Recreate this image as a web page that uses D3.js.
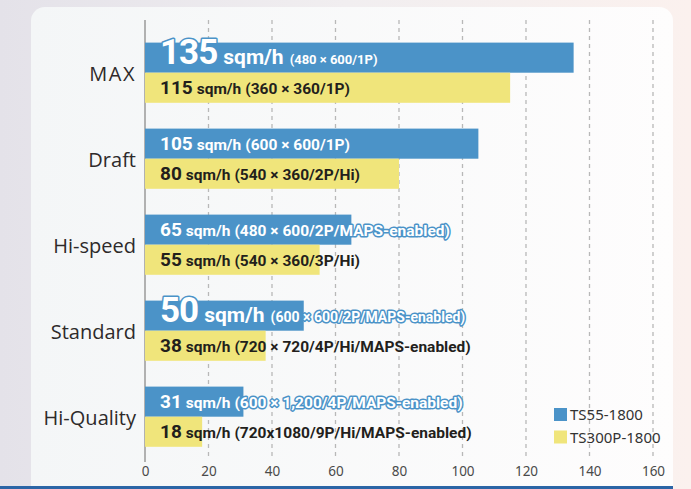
<!DOCTYPE html>
<html><head><meta charset="utf-8">
<script src="https://cdn.jsdelivr.net/npm/d3@7"></script>
<style>html,body{margin:0;padding:0;overflow:hidden;background:#fff}</style>
</head><body>
<svg id="chart" width="691" height="489"></svg>
<script>
const categories = ["MAX", "Draft", "Hi-speed", "Standard", "Hi-Quality"];
const ts55Values = [135, 105, 65, 50, 31];
const ts300Values = [115, 80, 55, 38, 18];
const ts55Specs = ["(480 × 600/1P)", "(600 × 600/1P)", "(480 × 600/2P/MAPS-enabled)", "(600 × 600/2P/MAPS-enabled)", "(600 × 1,200/4P/MAPS-enabled)"];
const ts300Specs = ["(360 × 360/1P)", "(540 × 360/2P/Hi)", "(540 × 360/3P/Hi)", "(720 × 720/4P/Hi/MAPS-enabled)", "(720x1080/9P/Hi/MAPS-enabled)"];
const xTicks = [0, 20, 40, 60, 80, 100, 120, 140, 160];
const seriesNames = ["TS55-1800", "TS300P-1800"];
const unitLabel = "sqm/h";

const BLUE = "#4b93c8", YELLOW = "#f0e57b";
const svg = d3.select("#chart");
const defs = svg.append("defs");
const bg = defs.append("linearGradient").attr("id","bg").attr("x1","0").attr("x2","1").attr("y1","0").attr("y2","0");
bg.append("stop").attr("offset","0").attr("stop-color","#e4e2e9");
bg.append("stop").attr("offset","0.5").attr("stop-color","#f1eef0");
bg.append("stop").attr("offset","1").attr("stop-color","#fbf1ee");
const pg = defs.append("linearGradient").attr("id","pg").attr("x1","0").attr("x2","1").attr("y1","0").attr("y2","0");
pg.append("stop").attr("offset","0").attr("stop-color","#f4f6f7");
pg.append("stop").attr("offset","1").attr("stop-color","#fefdfd");

svg.append("rect").attr("width",691).attr("height",489).attr("fill","url(#bg)");
svg.append("rect").attr("x",31).attr("y",7).attr("width",642).attr("height",500).attr("rx",14).attr("fill","url(#pg)");

const x = d3.scaleLinear().domain([0,160]).range([145,653]);
const y = d3.scaleBand().domain(categories).range([29.7, 459.7]).paddingInner(0.3).paddingOuter(0.15);
const barH = y.bandwidth()/2;

// gridlines
svg.append("g").selectAll("line").data(xTicks.slice(1)).join("line")
  .attr("x1",d=>x(d)).attr("x2",d=>x(d)).attr("y1",20).attr("y2",460)
  .attr("stroke","#b8b8b8").attr("stroke-width",1.3).attr("stroke-dasharray","4,4");

// axis
const xAxis = d3.axisBottom(x).tickValues(xTicks).tickSize(0).tickPadding(0);
const ax = svg.append("g").attr("transform","translate(0,465)").call(xAxis);
ax.select(".domain").remove();
ax.selectAll("text").attr("font-family","'Noto Sans', sans-serif").attr("font-size",13.5).attr("fill","#4a4a4a").attr("dy","0.8em");
svg.append("line").attr("x1",145).attr("x2",145).attr("y1",20).attr("y2",462).attr("stroke","#9a9a9a").attr("stroke-width",1.5);

// bars
const g = svg.append("g");
g.selectAll("rect.b").data(categories).join("rect").attr("class","b")
  .attr("x",x(0)).attr("y",d=>y(d)).attr("height",barH)
  .attr("width",(d,i)=>x(ts55Values[i])-x(0)).attr("fill",BLUE);
g.selectAll("rect.y").data(categories).join("rect").attr("class","y")
  .attr("x",x(0)).attr("y",d=>y(d)+barH).attr("height",barH)
  .attr("width",(d,i)=>x(ts300Values[i])-x(0)).attr("fill",YELLOW);

// category labels
svg.append("g").selectAll("text").data(categories).join("text")
  .attr("x",136).attr("y",d=>y(d)+barH+8).attr("text-anchor","end")
  .attr("font-family","'Open Sans', sans-serif").attr("font-size",20).attr("fill","#2e2a2a")
  .attr("letter-spacing",d=>d==="MAX"?1.5:0)
  .text(d=>d);

// value labels
const bigIdx = [0,3];
function label(values, specs, isBlue) {
  const t = svg.append("g").selectAll("text").data(categories).join("text")
    .attr("x",160)
    .attr("y",(d,i)=>y(d)+(isBlue?0:barH)+barH/2+6)
    .attr("font-family","Roboto, sans-serif").attr("font-weight",700)
    .attr("fill",isBlue?"#fff":"#231f1c");
  if (isBlue) t.attr("stroke",BLUE).attr("stroke-width",3).attr("paint-order","stroke").attr("stroke-linejoin","round");
  t.each(function(d,i){
    const big = isBlue && bigIdx.includes(i);
    const el = d3.select(this);
    el.append("tspan").attr("font-size",big?35:19).attr("letter-spacing",big?-1:0).text(values[i]);
    el.append("tspan").attr("dx",big?6:4).attr("font-size",big?21:15.5).text(unitLabel);
    el.append("tspan").attr("dx",big?6:4).attr("font-size",big?(i===0?13:14):15.5).text(specs[i]);
  });
}
label(ts55Values, ts55Specs, true);
label(ts300Values, ts300Specs, false);

// legend
const lg = svg.append("g").attr("transform","translate(554,408)");
[BLUE, YELLOW].forEach((c,i)=>{
  lg.append("rect").attr("x",0).attr("y",i*22.5).attr("width",13).attr("height",13).attr("fill",c);
  lg.append("text").attr("x",16).attr("y",i*22.5+12).attr("font-family","'Noto Sans', sans-serif")
    .attr("font-size",15).attr("fill","#333").text(seriesNames[i]);
});

// bottom stripe
svg.append("rect").attr("x",0).attr("y",486).attr("width",673).attr("height",3).attr("fill","#2b65a6");
</script>
</body></html>
